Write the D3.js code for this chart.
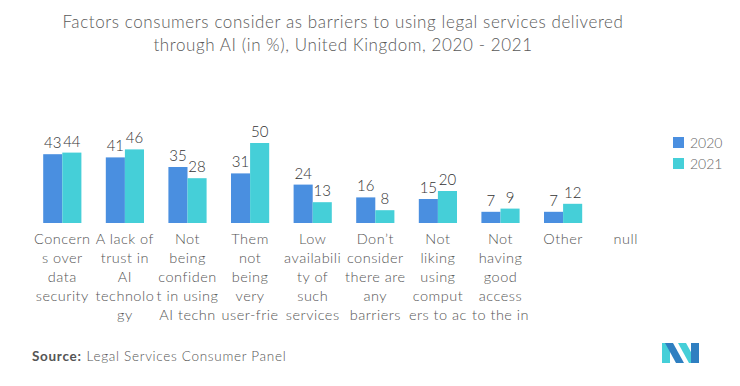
<!DOCTYPE html>
<html>
<head>
<meta charset="utf-8">
<script src="https://cdn.jsdelivr.net/npm/d3@7"></script>
<style>
  body { margin: 0; background: #fff; }
  text { font-family: Lato, "Open Sans", sans-serif; }
</style>
</head>
<body>
<svg width="740" height="386"></svg>
<script>
const categories = ["Concerns over data security", "A lack of trust in AI technology", "Not being confident in using AI techn",
  "Them not being very user-frie", "Low availability of such services", "Don’t consider there are any barriers",
  "Not liking using computers to ac", "Not having good access to the in", "Other", "null"];
const labelLines = [
  ["Concern", "s over", "data", "security"],
  ["A lack of", "trust in", "AI", "technolo", "gy"],
  ["Not", "being", "confiden", "t in using", "AI techn"],
  ["Them", "not", "being", "very", "user-frie"],
  ["Low", "availabili", "ty of", "such", "services"],
  ["Don’t", "consider", "there are", "any", "barriers"],
  ["Not", "liking", "using", "comput", "ers to ac"],
  ["Not", "having", "good", "access", "to the in"],
  ["Other"],
  ["null"]
];
const series = ["2020", "2021"];
const values2020 = [43, 41, 35, 31, 24, 16, 15, 7, 7, null];
const values2021 = [44, 46, 28, 50, 13, 8, 20, 9, 12, null];
const colors = ["#4a8fe0", "#45cfd8"];

var svg = d3.select("svg");

svg.append("text")
  .attr("text-anchor", "middle")
  .attr("fill", "#5a5a5a")
  .attr("font-size", "17px")
  .attr("font-weight", 300)
  .attr("letter-spacing", "0.6px")
  .selectAll("tspan")
  .data(["Factors consumers consider as barriers to using legal services delivered",
         "through AI (in %), United Kingdom, 2020 - 2021"])
  .enter().append("tspan")
  .attr("x", 343)
  .attr("y", (d, i) => 28 + i * 23)
  .text(d => d);

var baseline = 223;
var x0 = d3.scaleBand().domain(d3.range(categories.length)).range([31, 657]).paddingInner(0.39).paddingOuter(0.195);
var x1 = d3.scaleBand().domain(series).range([0, x0.bandwidth()]);
var y = d3.scaleLinear().domain([0, 50]).range([baseline, baseline - 80]);

var rows = categories.map((c, i) => ({ i: i, vals: [values2020[i], values2021[i]] }));

var g = svg.selectAll(".grp").data(rows).enter().append("g")
  .attr("class", "grp")
  .attr("transform", d => "translate(" + x0(d.i) + ",0)");

g.selectAll("rect")
  .data(d => d.vals.map((v, k) => ({ v: v, k: k })).filter(e => e.v != null))
  .enter().append("rect")
  .attr("x", d => x1(series[d.k]))
  .attr("y", d => y(d.v))
  .attr("width", x1.bandwidth())
  .attr("height", d => baseline - y(d.v))
  .attr("fill", d => colors[d.k]);

g.selectAll(".val")
  .data(d => d.vals.map((v, k) => ({ v: v, k: k })).filter(e => e.v != null))
  .enter().append("text")
  .attr("class", "val")
  .attr("x", d => x1(series[d.k]) + x1.bandwidth() / 2)
  .attr("y", d => y(d.v) - 6)
  .attr("text-anchor", "middle")
  .attr("font-size", "15px")
  .attr("font-weight", 300)
  .attr("fill", "#333")
  .text(d => d.v);

g.append("text")
  .attr("text-anchor", "middle")
  .attr("font-size", "14.5px")
  .attr("font-weight", 300)
  .attr("letter-spacing", "0.5px")
  .attr("fill", "#555")
  .selectAll("tspan")
  .data(d => labelLines[d.i])
  .enter().append("tspan")
  .attr("x", x0.bandwidth() / 2)
  .attr("y", (d, i) => 244 + i * 19)
  .text(d => d);

var legend = svg.selectAll(".leg").data(series).enter().append("g")
  .attr("class", "leg")
  .attr("transform", (d, i) => "translate(673," + (137 + i * 21) + ")");
legend.append("rect").attr("width", 11).attr("height", 11).attr("fill", (d, i) => colors[i]);
legend.append("text").attr("x", 17).attr("y", 10.5).attr("font-size", "14px").attr("font-weight", 300)
  .attr("fill", "#666").text(d => d);

var src = svg.append("text").attr("x", 32).attr("y", 361).attr("font-size", "13.5px")
  .attr("letter-spacing", "0.7px").attr("fill", "#555");
src.append("tspan").attr("font-weight", "bold").text("Source:");
src.append("tspan").attr("dx", 5).attr("font-weight", 300).text("Legal Services Consumer Panel");

// logo
var logo = svg.append("g").attr("transform", "translate(662,343)");
logo.append("path").attr("d", "M0,0 L8,0 L8,20 L0,20 Z").attr("fill", "#45cfd8");
logo.append("path").attr("d", "M3,0 L11,0 L22,20 L14,20 Z").attr("fill", "#2f7fc1");
logo.append("path").attr("d", "M16,0 L24,0 L35,20 L27,20 Z").attr("fill", "#45cfd8");
logo.append("path").attr("d", "M29,0 L37,0 L37,20 L29,20 Z").attr("fill", "#2f7fc1");
</script>
</body>
</html>
